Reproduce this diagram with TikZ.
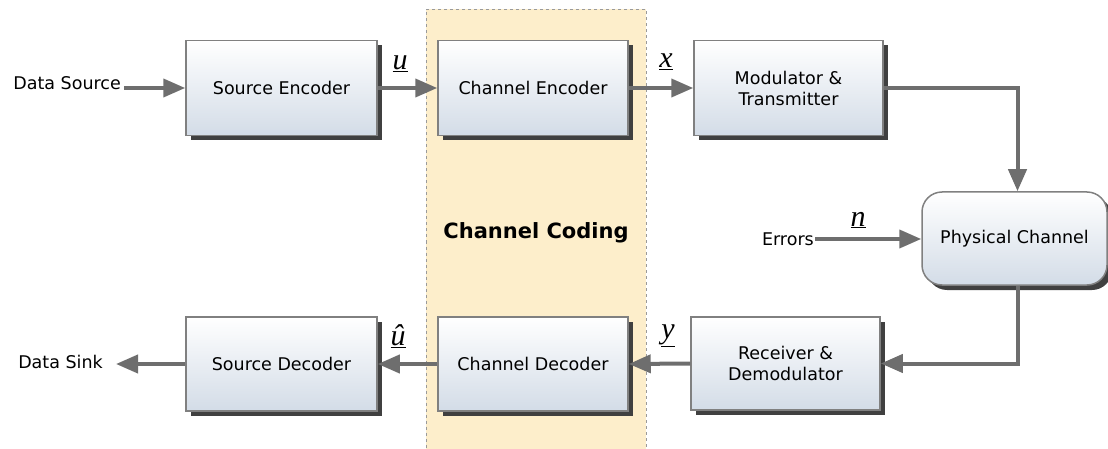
\documentclass[tikz,border=0pt]{standalone}
\usepackage{fontspec}
\setmainfont{DejaVu Sans}
\newfontfamily\timesish{Liberation Serif}
\usetikzlibrary{arrows.meta,shadows}
\definecolor{boxborder}{HTML}{808080}
\definecolor{boxbot}{HTML}{D3DCE7}
\definecolor{shadowc}{HTML}{404040}
\definecolor{arrowc}{HTML}{6E6E6E}
\definecolor{codingfill}{HTML}{FDEECB}
\definecolor{codingdraw}{HTML}{9A9A9A}
\begin{document}
\begin{tikzpicture}[x=1pt,y=-1pt,
  blk/.style={draw=boxborder,line width=1.5pt,top color=white,bottom color=boxbot,
    font=\fontsize{17.5}{21}\selectfont,align=center,inner sep=0pt,
    drop shadow={shadow xshift=5pt,shadow yshift=-5pt,fill=shadowc,opacity=1}},
  conn/.style={draw=arrowc,line width=4pt,-{Triangle[length=22pt,width=18pt]}},
  lbl/.style={font=\fontsize{17.5}{21}\selectfont},
  mlbl/.style={font=\fontsize{30}{34}\timesish\itshape},
]
\useasboundingbox (0,0) rectangle (1108,449);
% channel coding region
\node[draw=codingdraw,dashed,line width=0.8pt,fill=codingfill,minimum width=220pt,minimum height=445pt,inner sep=0pt] (region) at (536,232) {};
\node[font=\fontsize{21}{25}\selectfont\bfseries] (cc) at (536,233) {Channel Coding};
% blocks
\node[blk,minimum width=191pt,minimum height=95pt] (se) at (281.5,88) {Source Encoder};
\node[blk,minimum width=190pt,minimum height=95pt] (ce) at (533,88) {Channel Encoder};
\node[blk,minimum width=189pt,minimum height=95pt] (mod) at (788.5,88) {Modulator \&\\Transmitter};
\node[blk,minimum width=185pt,minimum height=93pt,rounded corners=20pt] (phy) at (1014.5,238.5) {Physical Channel};
\node[blk,minimum width=191pt,minimum height=94pt] (sd) at (281.5,364) {Source Decoder};
\node[blk,minimum width=190pt,minimum height=94pt] (cd) at (533,364) {Channel Decoder};
\node[blk,minimum width=189pt,minimum height=93pt] (rec) at (785.5,363.5) {Receiver \&\\Demodulator};
% texts
\node[lbl,anchor=east,inner sep=0pt] (dsrc) at (121,83) {Data Source};
\node[lbl,anchor=east,inner sep=0pt] (dsink) at (103,362) {Data Sink};
\node[lbl,anchor=east,inner sep=0pt] (err) at (814,239) {Errors};
\coordinate (dsrcend) at (124,88);
\coordinate (dsinkend) at (116,364);
\coordinate (errend) at (815,239);
% connectors
\draw[conn] (dsrcend) -- (se.west);
\draw[conn] (se.east) -- (ce.west);
\draw[conn] (ce.east) -- (mod.east -| mod.west);
\draw[conn] (mod.east) -| ([xshift=3pt]phy.north);
\draw[conn] (errend) -- (errend -| phy.west);
\draw[conn] ([xshift=3pt]phy.south) |- (rec.east);
\draw[conn] (rec.west) -- (cd.east);
\draw[conn] (cd.west) -- (sd.east);
\draw[conn] (sd.west) -- (dsinkend);
% math labels
\node[mlbl] (lu) at (400,64) {\underline{u}};
\node[mlbl] (lx) at (666,62) {\underline{x}};
\node[mlbl] (ln) at (858,220) {\underline{n}};
\node[mlbl] (ly) at (668,336) {\underline{y}};
\node[mlbl] (luh) at (398,336) {\underline{\^{u}}};
\end{tikzpicture}
\end{document}
